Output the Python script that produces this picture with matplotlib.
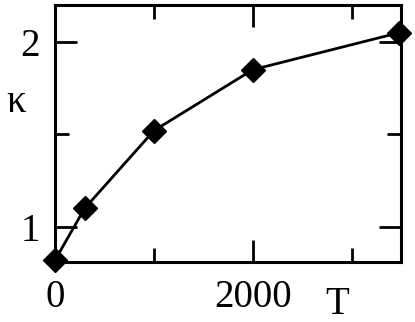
import matplotlib
matplotlib.use("Agg")
import matplotlib.pyplot as plt
from matplotlib.ticker import FixedLocator

T = [0, 300, 1000, 2000, 3480]
kappa = [0.82, 1.10, 1.52, 1.85, 2.05]
xticks_major = [0, 2000]
xtick_labels = ["0", "2000"]
xticks_minor = [1000, 3000]
yticks_major = [1, 2]
ytick_labels = ["1", "2"]
yticks_minor = [1.5]

plt.rcParams['font.family'] = ['Liberation Serif', 'DejaVu Serif']
plt.rcParams['mathtext.fontset'] = 'stix'

fig = plt.figure(figsize=(4.15, 3.22), dpi=100)
ax = fig.add_axes([55/415, 1 - 262/322, (401-55)/415, (262-5)/322])

ax.plot(T, kappa, color='black', lw=2, marker='D', markersize=12.5,
        markerfacecolor='black', clip_on=False, zorder=5)

ax.set_xlim(0, 3500)
ax.set_ylim(0.81, 2.2)

ax.xaxis.set_major_locator(FixedLocator(xticks_major))
ax.set_xticklabels(xtick_labels)
ax.xaxis.set_minor_locator(FixedLocator(xticks_minor))
ax.yaxis.set_major_locator(FixedLocator(yticks_major))
ax.set_yticklabels(ytick_labels)
ax.yaxis.set_minor_locator(FixedLocator(yticks_minor))

ax.tick_params(which='both', direction='in', top=True, right=True, width=2, labelsize=28)
ax.tick_params(which='major', length=16)
ax.tick_params(axis='x', which='major', pad=12)
ax.tick_params(axis='y', which='major', pad=11)
ax.tick_params(which='minor', length=10)
for s in ax.spines.values():
    s.set_linewidth(2.2)

fig.text(16/415, 1 - 102/322, 'κ', fontsize=28, ha='center', va='center')
fig.text(337/415, 1 - 304/322, 'T', fontsize=28, ha='center', va='center')

fig.savefig('out.png', dpi=100)
